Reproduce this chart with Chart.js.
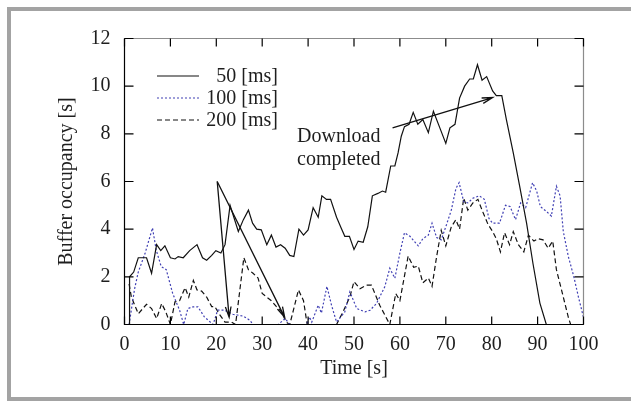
<!DOCTYPE html>
<html>
<head>
<meta charset="utf-8">
<script src="https://cdn.jsdelivr.net/npm/chart.js@4.4.0/dist/chart.umd.min.js"></script>
<style>
    html, body { margin: 0; padding: 0; background: #fff; }
    #contenedor { width: 631px; height: 401px; position: relative; }
</style>
</head>
<body>
<div id="contenedor"><canvas id="graphBuffer"></canvas></div>
<script>
//Datos: tiempo [s] y ocupacion del buffer [s] para cada intervalo
const t50 = [1, 1.1, 2, 3, 4.8, 5.9, 7, 7.9, 8.8, 10, 11, 11.7, 12.8, 14.2, 15.8, 17, 17.9, 19, 19.9, 21,
    21.9, 23, 24.8, 25.9, 27, 27.9, 28.8, 29.8, 31, 32, 33, 34, 35, 36, 36.9, 38, 39, 40, 41.1, 42.2,
    43, 44, 44.9, 46.2, 47.2, 48, 49, 50, 50.9, 52, 53, 54, 55.2, 56.2, 56.9, 58, 58.9, 59.6, 60.3, 61,
    62, 62.9, 63.9, 65, 66.2, 67.3, 68.7, 70, 70.9, 72, 73, 74.1, 75.2, 76, 76.9, 77.9, 78.9, 80.2, 81, 82.2,
    83.2, 84.7, 86.1, 87.6, 89, 90.5, 91.9, 100];
const v50 = [0, 2.0, 2.2, 2.8, 2.8, 2.15, 3.35, 3.1, 3.3, 2.8, 2.75, 2.85, 2.8, 3.1, 3.35, 2.8, 2.7, 2.9, 3.1, 3.0,
    3.35, 5.0, 3.9, 4.4, 4.8, 4.25, 4.0, 3.97, 3.35, 3.75, 3.25, 3.35, 3.2, 2.9, 2.85, 4.0, 3.75, 3.97, 4.9, 4.5,
    5.4, 5.25, 5.25, 4.5, 4.05, 3.7, 3.7, 3.15, 3.5, 3.45, 4.1, 5.4, 5.5, 5.6, 5.55, 6.65, 6.65, 7.2, 7.9, 8.3,
    8.4, 8.9, 8.4, 8.6, 8.05, 8.95, 8.25, 7.6, 8.25, 8.4, 9.5, 10.0, 10.3, 10.3, 10.9, 10.25, 10.4, 9.8, 9.6, 9.6,
    8.6, 7.2, 5.8, 4.25, 2.55, 0.9, 0, 0];

const t100 = [1, 2.2, 3, 4.5, 6.1, 6.9, 8, 9.1, 10.5, 12, 12.9, 13.8, 14.9, 16, 17.4, 19.3, 20.3, 21.8, 23.6, 25.9,
    27.3, 28, 33.5, 35, 36, 39.7, 40.3, 40.8, 42.2, 42.9, 44.1, 45.1, 46.2, 48, 49.1, 50.6, 52.4, 53.5, 54.9, 56.7,
    57.8, 58.9, 60, 61, 62.2, 64, 65, 66.2, 67, 68, 69, 70, 71.2, 72.2, 72.9, 73.9, 74.8, 75.9, 77.3,
    78.4, 79.4, 80.2, 81.7, 83, 84, 85.2, 86.3, 87.4, 88.9, 89.8, 90.6, 91.9, 93, 94.1, 94.9, 95.6, 96.7, 97.9, 98.9,
    100];
const v100 = [0, 1.5, 2.2, 3.0, 4.05, 3.13, 2.43, 2.3, 1.3, 0.6, 0, 0.67, 0.74, 0.74, 0.32, 0, 0.6, 0.6, 0.43, 0.35,
    0.18, 0, 0, 0.25, 0, 0, 0.32, 0.1, 0.81, 0.48, 1.6, 0.81, 0.1, 0.53, 1.37, 0.67, 0.53, 0.6, 0.88, 1.58,
    2.36, 1.94, 3.0, 3.85, 3.7, 3.3, 3.6, 3.75, 4.25, 3.65, 3.55, 4.1, 4.8, 5.7, 5.95, 5.15, 5.1, 5.3, 5.4,
    5.25, 4.45, 4.25, 4.25, 5.0, 4.95, 4.4, 5.1, 4.9, 5.95, 5.6, 4.95, 4.75, 4.55, 5.8, 5.4, 3.9, 2.85, 2.0, 1.15,
    0.3];

const t200 = [1, 1.5, 3, 4.8, 5.9, 7, 8.1, 9, 10, 11, 12, 13.2, 14, 15, 15.8, 16.8, 17.9, 19, 19.7, 20.6,
    21.9, 23.3, 24.2, 26, 27, 28, 29.1, 30, 31, 32, 33.1, 34.2, 35.2, 36, 36.8, 37.9, 39, 39.8, 46.2, 47.6,
    49.1, 50, 51.3, 52.7, 53.8, 55.6, 57.8, 59.1, 60, 61.8, 63, 64, 65, 66.2, 67, 68, 69,
    70, 71.2, 72.2, 73, 73.9, 74.8, 75.9, 77, 78, 79.2, 80.2, 81, 81.9, 82.8, 83.9, 84.7, 85.8, 87, 88, 89.2,
    90.1, 91.2, 92.3, 93.3, 94.1, 95.6, 96.7, 97.2, 100];
const v200 = [1.7, 1.15, 0.45, 0.85, 0.67, 0.25, 0.88, 0.53, 0, 0.95, 1.0, 1.55, 1.15, 1.85, 1.45, 1.4, 1.15, 0.75, 0.75, 0.45,
    0.1, 0.1, 0, 2.8, 2.3, 2.15, 1.95, 1.3, 1.15, 1.0, 0.75, 0.53, 0.1, 0, 0.6, 1.45, 1.0, 0, 0, 0.53,
    1.16, 1.8, 1.5, 1.65, 1.65, 0.81, 0, 1.3, 1.0, 2.87, 2.4, 2.45, 1.75, 1.95, 1.6, 2.85, 3.95,
    3.3, 4.1, 4.4, 4.0, 5.3, 4.8, 5.1, 5.25, 4.75, 4.2, 3.9, 3.6, 3.05, 3.85, 3.35, 3.9, 3.35, 3.05, 3.75, 3.5,
    3.6, 3.55, 3.2, 3.5, 2.3, 1.15, 0.3, 0, 0];

const etiquetasSeries = ['  50 [ms]', '100 [ms]', '200 [ms]'];
const ticksX = [0, 10, 20, 30, 40, 50, 60, 70, 80, 90, 100];
const ticksY = [0, 2, 4, 6, 8, 10, 12];

//Flechas (inicio y fin en unidades de los ejes)
const flechaInicio = [[20.2, 6.0], [20.2, 6.0], [58.4, 8.25]];
const flechaFin = [[22.8, 0.3], [34.9, 0.3], [80.2, 9.52]];
const textoDescarga = ['Download', 'completed'];
const posTexto = [37.6, 7.88];

const FUENTE = '"Liberation Serif", "Times New Roman", serif';
const COLOR_TEXTO = '#1e1e1e';

function juntar(ts, vs) {
    return ts.map((t, i) => ({ x: t, y: vs[i] }));
}

function dibujarFlecha(ctx, x1, y1, x2, y2) {
    const ang = Math.atan2(y2 - y1, x2 - x1);
    const largo = 11, abre = 0.26;
    ctx.beginPath();
    ctx.moveTo(x1, y1);
    ctx.lineTo(x2, y2);
    ctx.moveTo(x2 - largo * Math.cos(ang - abre), y2 - largo * Math.sin(ang - abre));
    ctx.lineTo(x2, y2);
    ctx.lineTo(x2 - largo * Math.cos(ang + abre), y2 - largo * Math.sin(ang + abre));
    ctx.stroke();
}

//Marco gris, ejes con marcas hacia dentro, leyenda y anotaciones
const pluginMarco = {
    id: 'marco',
    beforeDraw(chart) {
        const ctx = chart.ctx;
        ctx.save();
        ctx.fillStyle = '#a3a3a3';
        ctx.fillRect(7, 7, 624, 4);
        ctx.fillRect(7, 7, 4, 394);
        ctx.fillRect(7, 397, 624, 4);
        ctx.restore();
    },
    afterDatasetsDraw(chart) {
        const { ctx, chartArea: a, scales: { x, y } } = chart;
        ctx.save();
        ctx.lineWidth = 1.2;
        ctx.strokeStyle = '#8c8c8c';
        ctx.beginPath();
        ctx.moveTo(a.left, a.top);
        ctx.lineTo(a.right, a.top);
        ctx.lineTo(a.right, a.bottom);
        ctx.stroke();
        ctx.strokeStyle = '#000';
        ctx.beginPath();
        ctx.moveTo(a.left, a.top);
        ctx.lineTo(a.left, a.bottom);
        ctx.lineTo(a.right, a.bottom);
        ctx.stroke();

        ctx.beginPath();
        ticksX.forEach(v => {
            const px = x.getPixelForValue(v);
            ctx.moveTo(px, a.bottom); ctx.lineTo(px, a.bottom - 8);
            ctx.moveTo(px, a.top); ctx.lineTo(px, a.top + 8);
        });
        ticksY.forEach(v => {
            const py = y.getPixelForValue(v);
            ctx.moveTo(a.left, py); ctx.lineTo(a.left + 9, py);
            ctx.moveTo(a.right, py); ctx.lineTo(a.right - 9, py);
        });
        ctx.stroke();

        //Leyenda
        ctx.font = '20px ' + FUENTE;
        ctx.fillStyle = COLOR_TEXTO;
        ctx.textAlign = 'right';
        ctx.textBaseline = 'middle';
        chart.data.datasets.forEach((ds, i) => {
            const fila = 76 + i * 22;
            ctx.save();
            ctx.strokeStyle = ds.borderColor;
            ctx.lineWidth = ds.borderWidth;
            ctx.setLineDash(ds.borderDash || []);
            ctx.beginPath();
            ctx.moveTo(157, fila);
            ctx.lineTo(199, fila);
            ctx.stroke();
            ctx.restore();
            ctx.fillText(etiquetasSeries[i], 278, fila + 1);
        });

        //Flechas
        ctx.strokeStyle = '#111';
        ctx.lineWidth = 1.3;
        flechaInicio.forEach((ini, i) => {
            const fin = flechaFin[i];
            dibujarFlecha(ctx,
                x.getPixelForValue(ini[0]), y.getPixelForValue(ini[1]),
                x.getPixelForValue(fin[0]), y.getPixelForValue(fin[1]));
        });

        ctx.textAlign = 'left';
        const tx = x.getPixelForValue(posTexto[0]);
        const ty = y.getPixelForValue(posTexto[1]);
        textoDescarga.forEach((linea, i) => ctx.fillText(linea, tx, ty + i * 23));
        ctx.restore();
    }
};

let graficoBuffer = document.querySelector('#graphBuffer');

const config = {
    type: 'line',
    data: {
        datasets: [{
            label: etiquetasSeries[0],
            data: juntar(t50, v50),
            borderColor: '#111111',
            borderWidth: 1.2
        }, {
            label: etiquetasSeries[1],
            data: juntar(t100, v100),
            borderColor: '#4040b4',
            borderWidth: 1.2,
            borderDash: [2, 2]
        }, {
            label: etiquetasSeries[2],
            data: juntar(t200, v200),
            borderColor: '#111111',
            borderWidth: 1.2,
            borderDash: [5, 3]
        }]
    },
    options: {
        responsive: true,
        maintainAspectRatio: false,
        animation: false,
        events: [],
        elements: { point: { radius: 0 }, line: { tension: 0 } },
        layout: { padding: { top: 38.5, right: 47.5, left: 0, bottom: 0 } },
        plugins: { legend: { display: false }, tooltip: { enabled: false } },
        scales: {
            x: {
                type: 'linear',
                min: 0,
                max: 100,
                afterFit: (s) => { s.height = 76.5; },
                afterBuildTicks: (s) => { s.ticks = ticksX.map(v => ({ value: v })); },
                grid: { display: false, drawTicks: false },
                border: { display: false },
                ticks: { color: COLOR_TEXTO, font: { family: FUENTE, size: 20 }, padding: 8, maxRotation: 0 },
                title: { display: true, text: 'Time [s]', color: COLOR_TEXTO, font: { family: FUENTE, size: 20 }, padding: { bottom: 20 } }
            },
            y: {
                min: 0,
                max: 12,
                afterFit: (s) => { s.width = 124.5; },
                afterBuildTicks: (s) => { s.ticks = ticksY.map(v => ({ value: v })); },
                grid: { display: false, drawTicks: false },
                border: { display: false },
                ticks: { color: COLOR_TEXTO, font: { family: FUENTE, size: 20 }, padding: 14 },
                title: { display: true, text: 'Buffer occupancy [s]', color: COLOR_TEXTO, font: { family: FUENTE, size: 20 }, padding: { top: 55 } }
            }
        }
    },
    plugins: [pluginMarco]
};

new Chart(graficoBuffer, config);//Crea grafico de ocupacion
</script>
</body>
</html>
